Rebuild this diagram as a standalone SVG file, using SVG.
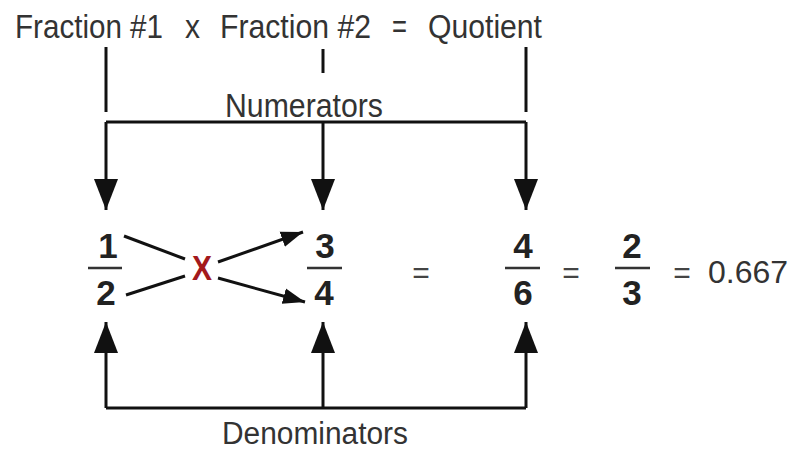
<svg xmlns="http://www.w3.org/2000/svg" width="794" height="450" viewBox="0 0 794 450">
<style>
.t{font-family:"Liberation Sans",Arial,sans-serif;fill:#333}
.h{font-size:34px}
.d{font-family:"Liberation Sans",Arial,sans-serif;font-weight:bold;fill:#222;text-anchor:middle;font-size:35px}
.eq{font-family:"Liberation Sans",Arial,sans-serif;fill:#444;text-anchor:middle;font-size:30px}
.ln{stroke:#111;stroke-width:3;fill:none}
.bar{stroke:#333;stroke-width:2.5}
</style>
<defs>
<marker id="ah" markerUnits="userSpaceOnUse" markerWidth="31" markerHeight="24" refX="31" refY="12" orient="auto" viewBox="0 0 31 24">
<path d="M0,0 L31,12 L0,24 Z" fill="#111"/>
</marker>
<marker id="ah2" markerUnits="userSpaceOnUse" markerWidth="22" markerHeight="18" refX="22" refY="8" orient="auto" viewBox="0 0 22 16">
<path d="M0,0 L22,8 L0,16 Z" fill="#111"/>
</marker>
</defs>
<g id="title">
<text class="t h" x="15" y="38" textLength="148" lengthAdjust="spacingAndGlyphs">Fraction #1</text>
<text class="t h" x="185" y="38" textLength="15" lengthAdjust="spacingAndGlyphs">x</text>
<text class="t h" x="220" y="38" textLength="151" lengthAdjust="spacingAndGlyphs">Fraction #2</text>
<text class="t h" x="392" y="38" textLength="15" lengthAdjust="spacingAndGlyphs">=</text>
<text class="t h" x="428" y="38" textLength="114" lengthAdjust="spacingAndGlyphs">Quotient</text>
</g>
<g id="labels">
<text class="t" x="225" y="117" font-size="34" textLength="158" lengthAdjust="spacingAndGlyphs">Numerators</text>
<text class="t" x="222" y="444" font-size="31" textLength="186" lengthAdjust="spacingAndGlyphs">Denominators</text>
</g>
<g id="frac1">
<text class="d" x="108" y="258">1</text>
<line class="bar" x1="88" y1="268" x2="122" y2="268"/>
<text class="d" x="106" y="305">2</text>
</g>
<g id="times">
<text x="192" y="280" font-family="Liberation Sans,Arial,sans-serif" font-weight="bold" font-size="35" fill="#a3191c" textLength="20" lengthAdjust="spacingAndGlyphs">X</text>
</g>
<g id="frac2">
<text class="d" x="325" y="258">3</text>
<line class="bar" x1="307" y1="268" x2="342" y2="268"/>
<text class="d" x="324" y="305">4</text>
</g>
<g id="eq1"><text class="eq" x="421" y="283">=</text></g>
<g id="frac3">
<text class="d" x="523" y="258">4</text>
<line class="bar" x1="505" y1="268" x2="540" y2="268"/>
<text class="d" x="523" y="305">6</text>
</g>
<g id="eq2"><text class="eq" x="571" y="283">=</text></g>
<g id="frac4">
<text class="d" x="632" y="258">2</text>
<line class="bar" x1="615" y1="268" x2="650" y2="268"/>
<text class="d" x="632" y="305">3</text>
</g>
<g id="eq3"><text class="eq" x="682" y="283">=</text></g>
<g id="result">
<text class="t" x="708" y="283" font-size="32">0.667</text>
</g>
<g id="connectors">
<line class="ln" x1="106" y1="47" x2="106" y2="112"/>
<line class="ln" x1="323" y1="49" x2="323" y2="73"/>
<line class="ln" x1="526" y1="47" x2="526" y2="112"/>
<polyline class="ln" points="106,122 526,122"/>
<line class="ln" x1="106" y1="122" x2="106" y2="210" marker-end="url(#ah)"/>
<line class="ln" x1="323" y1="122" x2="323" y2="210" marker-end="url(#ah)"/>
<line class="ln" x1="526" y1="122" x2="526" y2="210" marker-end="url(#ah)"/>
<polyline class="ln" points="106,408 526,408"/>
<line class="ln" x1="106" y1="408" x2="106" y2="322" marker-end="url(#ah)"/>
<line class="ln" x1="323" y1="408" x2="323" y2="322" marker-end="url(#ah)"/>
<line class="ln" x1="526" y1="408" x2="526" y2="322" marker-end="url(#ah)"/>
<line class="ln" stroke-width="2.5" x1="124" y1="236" x2="185" y2="259"/>
<line class="ln" stroke-width="2.5" x1="126" y1="295" x2="185" y2="276"/>
<line class="ln" stroke-width="2.5" x1="218" y1="262" x2="303" y2="232" marker-end="url(#ah2)"/>
<line class="ln" stroke-width="2.5" x1="218" y1="278" x2="305" y2="302" marker-end="url(#ah2)"/>
</g>
</svg>
